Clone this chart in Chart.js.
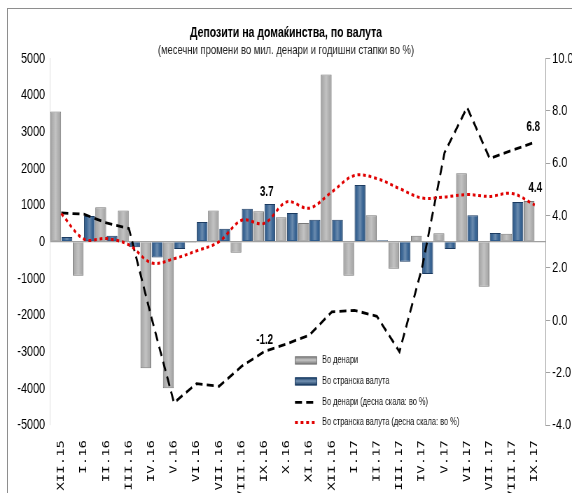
<!DOCTYPE html>
<html><head><meta charset="utf-8">
<script src="https://cdn.jsdelivr.net/npm/chart.js@4.4.1/dist/chart.umd.min.js"></script>
<style>
html,body{margin:0;padding:0;background:#fff;overflow:hidden;width:572px;height:493px;position:relative;}
#frame{position:absolute;left:7px;top:8px;width:700px;height:600px;border-left:1px solid #8e8e8e;border-top:1px solid #8e8e8e;}
#wrap{position:absolute;left:0;top:0;width:817px;height:493px;transform:scaleX(0.70012);transform-origin:0 0;}
</style></head><body>
<div id="frame"></div>
<div id="wrap"><canvas id="c" width="817" height="493"></canvas></div>
<script>
// ---- data ----
const categories = ['XII.15','I.16','II.16','III.16','IV.16','V.16','VI.16','VII.16','VIII.16','IX.16','X.16','XI.16','XII.16','I.17','II.17','III.17','IV.17','V.17','VI.17','VII.17','VIII.17','IX.17'];
const denarsChange  = [3550, -930, 940, 850, -3450, -4000, -30, 850, -300, 830, 670, 510, 4560, -930, 720, -740, 160, 230, 1870, -1230, 220, 1110];
const foreignChange = [130, 700, 160, -150, -430, -200, 540, 350, 900, 1030, 780, 600, 600, 1550, 40, -550, -880, -200, 720, 240, 1080, null];
const denarsGrowth  = [4.1, 4.05, 3.72, 3.5, 0.1, -3.15, -2.42, -2.52, -1.76, -1.2, -0.9, -0.57, 0.32, 0.38, 0.15, -1.2, 2.0, 6.4, 8.13, 6.18, 6.49, 6.8];
const foreignGrowth = [4.07, 3.1, 3.12, 2.88, 2.19, 2.35, 2.65, 3.0, 3.82, 3.7, 4.52, 4.28, 4.9, 5.53, 5.41, 5.03, 4.67, 4.71, 4.8, 4.73, 4.84, 4.4];
const seriesNames = ['Во денари', 'Во странска валута', 'Во денари (десна скала: во %)', 'Во странска валута (десна скала: во %)'];
const titleText = 'Депозити на домаќинства, по валута';
const subtitleText = '(месечни промени во мил. денари и годишни стапки во %)';
const leftAxis = {min: -5000, max: 5000, step: 1000};
const rightAxis = {min: -4, max: 10, step: 2};

// ---- layout helpers (target px -> internal px) ----
const SX = 0.70012;
const W = 817;
const FONT = "'Liberation Sans', Arial, sans-serif";
Chart.defaults.font.family = FONT;

const barShade = {
  id: 'barShade',
  afterDatasetDraw(chart, args) {
    const meta = args.meta;
    if (meta.type !== 'bar') return;
    const ctx = chart.ctx;
    ctx.save();
    meta.data.forEach(el => {
      const p = el.getProps(['x', 'y', 'base', 'width'], true);
      if (!isFinite(p.y) || !isFinite(p.base) || !isFinite(p.x)) return;
      const l = p.x - p.width / 2, r = p.x + p.width / 2;
      const t = Math.min(p.y, p.base), b = Math.max(p.y, p.base);
      if (b - t < 2) return;
      const g = ctx.createLinearGradient(l, 0, r, 0);
      g.addColorStop(0, 'rgba(0,0,0,0.22)');
      g.addColorStop(0.2, 'rgba(255,255,255,0.06)');
      g.addColorStop(0.5, 'rgba(255,255,255,0.30)');
      g.addColorStop(0.8, 'rgba(255,255,255,0.04)');
      g.addColorStop(1, 'rgba(0,0,0,0.25)');
      ctx.fillStyle = g;
      ctx.fillRect(l + 1, t + 1, p.width - 2, b - t - 2);
    });
    ctx.restore();
  }
};

const valueLabels = {
  id: 'valueLabels',
  afterDatasetsDraw(chart, args, opts) {
    const ctx = chart.ctx;
    ctx.save();
    ctx.font = 'bold 14px ' + FONT;
    ctx.fillStyle = '#000';
    ctx.textAlign = 'center';
    ctx.textBaseline = 'middle';
    (opts.items || []).forEach(it => {
      const pt = chart.getDatasetMeta(it.dataset).data[it.index];
      const v = chart.data.datasets[it.dataset].data[it.index];
      ctx.fillText(Number(v).toFixed(1), pt.x + it.dx / SX, pt.y + it.dy);
    });
    ctx.restore();
  }
};

const boxLegend = {
  id: 'boxLegend',
  afterDraw(chart, args, opts) {
    const ctx = chart.ctx, a = chart.chartArea;
    const x0 = a.left + opts.left / SX;
    const symW = opts.symbolWidth / SX;
    const tx = x0 + opts.textGap / SX;
    ctx.save();
    chart.data.datasets.forEach((ds, i) => {
      const y = a.top + opts.rows[i];
      if (ds.type === 'bar') {
        ctx.fillStyle = ds.backgroundColor;
        ctx.fillRect(x0, y - 4, symW, 8);
        const g = ctx.createLinearGradient(0, y - 4, 0, y + 4);
        g.addColorStop(0, 'rgba(0,0,0,0.15)');
        g.addColorStop(0.45, 'rgba(255,255,255,0.35)');
        g.addColorStop(1, 'rgba(0,0,0,0.25)');
        ctx.fillStyle = g;
        ctx.fillRect(x0, y - 4, symW, 8);
        ctx.strokeStyle = ds.borderColor;
        ctx.lineWidth = 1;
        ctx.strokeRect(x0 + 0.5, y - 3.5, symW - 1, 7);
      } else {
        ctx.strokeStyle = ds.borderColor;
        ctx.lineWidth = ds.borderWidth;
        ctx.setLineDash(ds.borderDash || []);
        ctx.beginPath();
        ctx.moveTo(x0, y);
        ctx.lineTo(x0 + symW, y);
        ctx.stroke();
        ctx.setLineDash([]);
      }
      ctx.fillStyle = '#111';
      ctx.font = '10.6px ' + FONT;
      ctx.textAlign = 'left';
      ctx.textBaseline = 'middle';
      ctx.fillText(ds.label, tx, y);
    });
    ctx.restore();
  }
};

new Chart(document.getElementById('c'), {
  type: 'bar',
  data: {
    labels: categories,
    datasets: [
      {type: 'bar', label: seriesNames[0], data: denarsChange, yAxisID: 'y',
       backgroundColor: '#a9a9a9', borderColor: '#787878', borderWidth: 1,
       categoryPercentage: 1, barPercentage: 0.96, order: 2},
      {type: 'bar', label: seriesNames[1], data: foreignChange, yAxisID: 'y',
       backgroundColor: '#2c5a8c', borderColor: '#1a3a60', borderWidth: 1,
       categoryPercentage: 1, barPercentage: 0.96, order: 3},
      {type: 'line', label: seriesNames[2], data: denarsGrowth, yAxisID: 'y1',
       borderColor: '#000', borderWidth: 2.8, borderDash: [10, 6], pointRadius: 0,
       tension: 0, fill: false, order: 1},
      {type: 'line', label: seriesNames[3], data: foreignGrowth, yAxisID: 'y1',
       borderColor: '#e00000', borderWidth: 3, borderDash: [4, 4], pointRadius: 0,
       tension: 0.35, fill: false, order: 0}
    ]
  },
  options: {
    responsive: false,
    animation: false,
    devicePixelRatio: 1,
    layout: {padding: 0, autoPadding: false},
    plugins: {
      legend: {display: false},
      tooltip: {enabled: false},
      title: {display: true, text: titleText, color: '#000',
              font: {size: 15, weight: 'bold'}, padding: {top: 24, bottom: 0}},
      subtitle: {display: true, text: subtitleText, color: '#222',
                 font: {size: 13.5}, padding: {top: 0.2, bottom: 0}},
      valueLabels: {items: [
        {dataset: 3, index: 9, dx: 2.6, dy: -31},
        {dataset: 2, index: 9, dx: 0.5, dy: -12},
        {dataset: 2, index: 21, dx: -1.5, dy: -15},
        {dataset: 3, index: 21, dx: 0.5, dy: -17}
      ]},
      boxLegend: {left: 245, symbolWidth: 22, textGap: 27, rows: [302, 323, 344, 364]}
    },
    scales: {
      x: {
        grid: {display: false, drawTicks: false},
        border: {display: false},
        ticks: {autoSkip: false, maxRotation: 90, minRotation: 90, padding: 15,
                color: '#000', font: {family: "'DejaVu Sans Mono', monospace", size: 14}},
        afterFit(s) { s.height = 68; }
      },
      y: {
        position: 'left', min: leftAxis.min, max: leftAxis.max,
        ticks: {stepSize: leftAxis.step, padding: 7, color: '#000', font: {size: 15.5},
                callback: v => String(v)},
        grid: {drawTicks: false, lineWidth: 1.2,
               color: c => (c.tick && c.tick.value === 0) ? '#a0a0a0' : 'rgba(0,0,0,0)'},
        border: {display: true, color: '#dcdcdc'},
        afterFit(s) { s.width = 50 / SX; }
      },
      y1: {
        position: 'right', min: rightAxis.min, max: rightAxis.max,
        ticks: {stepSize: rightAxis.step, padding: 3, color: '#000', font: {size: 15.5},
                callback: v => Number(v).toFixed(1)},
        grid: {drawOnChartArea: false, drawTicks: true, tickLength: 6, color: '#a0a0a0'},
        border: {display: true, color: '#a0a0a0'},
        afterFit(s) { s.width = W - 546 / SX; }
      }
    }
  },
  plugins: [barShade, valueLabels, boxLegend]
});
</script>
</body></html>
